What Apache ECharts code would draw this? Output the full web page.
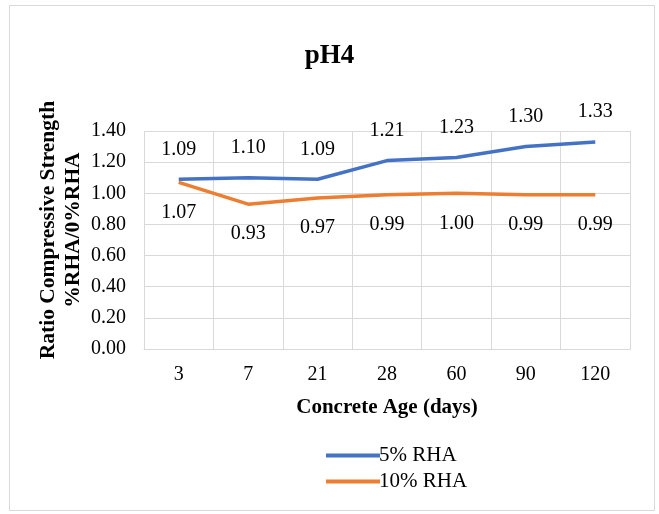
<!DOCTYPE html>
<html>
<head>
<meta charset="utf-8">
<script src="https://cdn.jsdelivr.net/npm/echarts@6/dist/echarts.min.js"></script>
<style>
  html, body { margin: 0; padding: 0; background: #ffffff; }
  #chart { width: 659px; height: 514px; }
</style>
</head>
<body>
<div id="chart"></div>
<script>
// Concrete age in days
const ages = ['3', '7', '21', '28', '60', '90', '120'];
// Strength ratio relative to 0% RHA at pH 4
const rha5 = [1.09, 1.10, 1.09, 1.21, 1.23, 1.30, 1.33];
const rha10 = [1.07, 0.93, 0.97, 0.99, 1.00, 0.99, 0.99];

const serif = '"Liberation Serif", "Times New Roman", serif';

const chart = echarts.init(document.getElementById('chart'), null, { renderer: 'canvas' });

chart.setOption({
  backgroundColor: '#ffffff',
  animation: false,
  textStyle: { fontFamily: serif, color: '#000' },
  graphic: [{
    type: 'rect',
    shape: { x: 9.5, y: 5.5, width: 645, height: 505 },
    style: { fill: 'none', stroke: '#d9d9d9', lineWidth: 1 },
    silent: true
  }],
  title: {
    text: 'pH4',
    left: 'center',
    top: 38,
    textStyle: { fontFamily: serif, fontSize: 27, fontWeight: 'bold', color: '#000' }
  },
  legend: {
    orient: 'vertical',
    left: 321,
    top: 440,
    itemWidth: 54,
    itemHeight: 4,
    itemGap: 5,
    icon: 'rect',
    textStyle: { fontFamily: serif, fontSize: 21, color: '#000', padding: [0, 0, 0, -6] },
    data: ['5% RHA', '10% RHA']
  },
  grid: { left: 144, right: 29, top: 131, bottom: 165 },
  xAxis: {
    type: 'category',
    data: ages,
    boundaryGap: true,
    name: 'Concrete Age (days)',
    nameLocation: 'middle',
    nameGap: 48,
    nameMoveOverlap: false,
    nameTextStyle: { fontFamily: serif, fontSize: 21, fontWeight: 'bold', color: '#000' },
    axisLine: { lineStyle: { color: '#d9d9d9', width: 1 } },
    axisTick: { show: false },
    axisLabel: { fontFamily: serif, fontSize: 20, color: '#000', margin: 16 },
    splitLine: { show: true, lineStyle: { color: '#d9d9d9', width: 1 } }
  },
  yAxis: {
    type: 'value',
    min: 0,
    max: 1.4,
    interval: 0.2,
    name: 'Ratio Compressive Strength\n%RHA/0%RHA',
    nameLocation: 'middle',
    nameGap: 58,
    nameMoveOverlap: false,
    nameTextStyle: {
      fontFamily: serif, fontSize: 21.5, fontWeight: 'bold', color: '#000',
      lineHeight: 25, padding: [0, 0, 0, 20]
    },
    axisLine: { show: false },
    axisTick: { show: false },
    axisLabel: {
      fontFamily: serif, fontSize: 20, color: '#000', margin: 18,
      formatter: v => v.toFixed(2)
    },
    splitLine: { show: true, lineStyle: { color: '#d9d9d9', width: 1 } }
  },
  series: [
    {
      name: '5% RHA',
      type: 'line',
      data: rha5,
      symbol: 'circle',
      symbolSize: 0,
      showSymbol: true,
      color: '#4472C4',
      lineStyle: { width: 3.5, color: '#4472C4' },
      label: {
        show: true, position: 'top', distance: 20,
        fontFamily: serif, fontSize: 20, color: '#000',
        formatter: p => p.value.toFixed(2)
      }
    },
    {
      name: '10% RHA',
      type: 'line',
      data: rha10,
      symbol: 'circle',
      symbolSize: 0,
      showSymbol: true,
      color: '#ED7D31',
      lineStyle: { width: 3.5, color: '#ED7D31' },
      label: {
        show: true, position: 'bottom', distance: 20,
        fontFamily: serif, fontSize: 20, color: '#000',
        formatter: p => p.value.toFixed(2)
      }
    }
  ]
});
</script>
</body>
</html>
